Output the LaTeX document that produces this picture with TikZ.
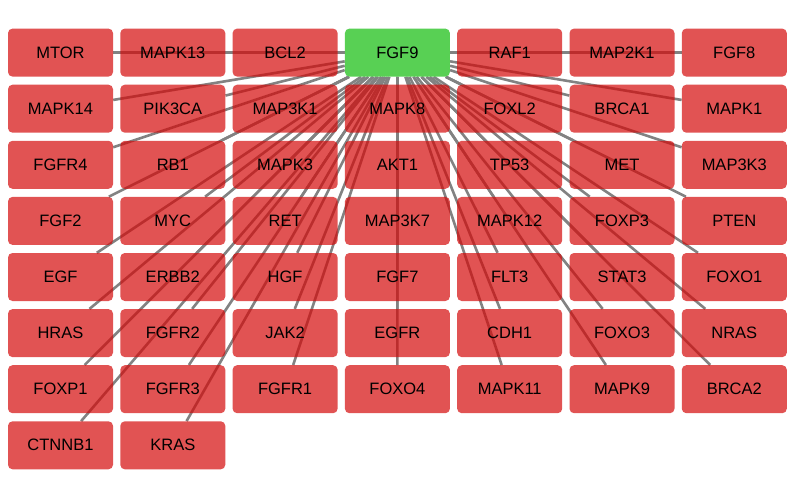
\documentclass[tikz,border=0pt]{standalone}
\usepackage{fontspec}
\setmainfont{Liberation Sans}
\usetikzlibrary{backgrounds}

\definecolor{genered}{RGB}{212,10,10}
\definecolor{hubgreen}{RGB}{88,208,84}
\definecolor{linkgray}{RGB}{130,130,130}

\begin{document}
\begin{tikzpicture}[x=1pt, y=-1pt,
    gene/.style={rectangle, rounded corners=4.5pt, fill=genered, fill opacity=0.7, text opacity=1,
        minimum width=105pt, minimum height=48pt, inner sep=0pt, font=\fontsize{16.5}{19}\selectfont},
    hub/.style={gene, fill=hubgreen, fill opacity=1},
    link/.style={draw=linkgray, line width=2.6pt}]

    \useasboundingbox (0,0) rectangle (795,498);

    % Nodes, row by row
    \foreach \g [count=\i from 0] in {MTOR,MAPK13,BCL2}
        \node[gene] (\g) at (60.5+112.3*\i, 52.6) {\g};
    \node[hub] (FGF9) at (397.4, 52.6) {FGF9};
    \foreach \g [count=\i from 4] in {RAF1,MAP2K1,FGF8}
        \node[gene] (\g) at (60.5+112.3*\i, 52.6) {\g};

    \foreach \g [count=\i from 0] in {MAPK14,PIK3CA,MAP3K1,MAPK8,FOXL2,BRCA1,MAPK1}
        \node[gene] (\g) at (60.5+112.3*\i, 108.7) {\g};
    \foreach \g [count=\i from 0] in {FGFR4,RB1,MAPK3,AKT1,TP53,MET,MAP3K3}
        \node[gene] (\g) at (60.5+112.3*\i, 164.8) {\g};
    \foreach \g [count=\i from 0] in {FGF2,MYC,RET,MAP3K7,MAPK12,FOXP3,PTEN}
        \node[gene] (\g) at (60.5+112.3*\i, 220.9) {\g};
    \foreach \g [count=\i from 0] in {EGF,ERBB2,HGF,FGF7,FLT3,STAT3,FOXO1}
        \node[gene] (\g) at (60.5+112.3*\i, 277.0) {\g};
    \foreach \g [count=\i from 0] in {HRAS,FGFR2,JAK2,EGFR,CDH1,FOXO3,NRAS}
        \node[gene] (\g) at (60.5+112.3*\i, 333.1) {\g};
    \foreach \g [count=\i from 0] in {FOXP1,FGFR3,FGFR1,FOXO4,MAPK11,MAPK9,BRCA2}
        \node[gene] (\g) at (60.5+112.3*\i, 389.2) {\g};
    \foreach \g [count=\i from 0] in {CTNNB1,KRAS}
        \node[gene] (\g) at (60.5+112.3*\i, 445.3) {\g};

    % Connections from the hub, behind the boxes
    \begin{scope}[on background layer]
        \foreach \g in {MTOR,MAPK13,BCL2,RAF1,MAP2K1,FGF8,
                MAPK14,PIK3CA,MAP3K1,MAPK8,FOXL2,BRCA1,MAPK1,
                FGFR4,RB1,MAPK3,AKT1,TP53,MET,MAP3K3,
                FGF2,MYC,RET,MAP3K7,MAPK12,FOXP3,PTEN,
                EGF,ERBB2,HGF,FGF7,FLT3,STAT3,FOXO1,
                HRAS,FGFR2,JAK2,EGFR,CDH1,FOXO3,NRAS,
                FOXP1,FGFR3,FGFR1,FOXO4,MAPK11,MAPK9,BRCA2,
                CTNNB1,KRAS}
            \draw[link] (FGF9) -- (\g);
    \end{scope}

\end{tikzpicture}
\end{document}
